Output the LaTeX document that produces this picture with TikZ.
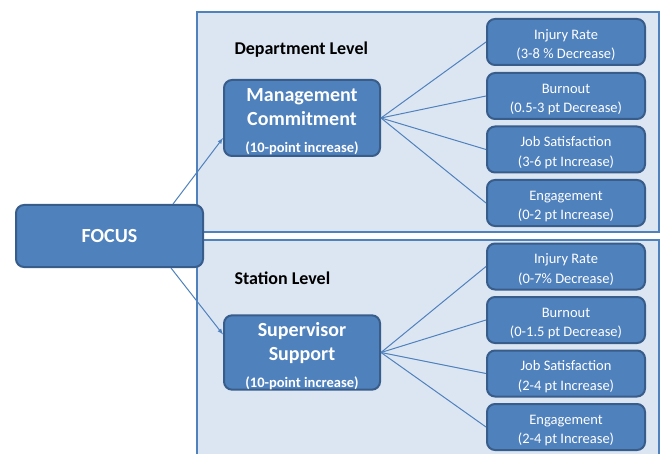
\documentclass[tikz,border=0pt]{standalone}
\usepackage{fontspec}
\setmainfont{Carlito}
\tikzset{>=latex}
\definecolor{boxblue}{HTML}{4F81BD}
\definecolor{edgeblue}{HTML}{385D8A}
\definecolor{panelblue}{HTML}{DCE6F2}
% taller first line, so the text sits a little low in its box
\newcommand{\toprule}[1]{\rule{0pt}{#1}}
\tikzset{
  panel/.style={draw=boxblue, line width=2pt, fill=panelblue},
  bluebox/.style={draw=edgeblue, line width=2pt, fill=boxblue, rounded corners=8pt,
    text=white, align=center, inner sep=0pt},
  resultbox/.style={bluebox, minimum width=158pt, minimum height=46pt,
    font=\fontsize{14.5}{19.5}\selectfont},
  levelbox/.style={bluebox, minimum width=156pt, font=\fontsize{20}{24}\selectfont\bfseries},
  leveltitle/.style={anchor=west, font=\fontsize{18}{22}\selectfont\bfseries},
  link/.style={draw=boxblue, line width=1pt},
}

\begin{document}
\begin{tikzpicture}[x=1pt,y=-1pt]
  \useasboundingbox (0,0) rectangle (660,454);
  % panels
  \draw[panel] (197,12) rectangle (659,232);
  \draw[panel] (197,240) rectangle (659,470);
  \node[leveltitle] (dlevel) at (231,49.5) {Department Level};
  \node[leveltitle] (slevel) at (231,278) {Station Level};
  % focus and the two levels
  \node[bluebox, minimum width=187pt, minimum height=62pt,
    font=\fontsize{20}{24}\selectfont\bfseries] (focus) at (109.5,236) {FOCUS};
  \node[levelbox, minimum height=76pt] (mgmt) at (302,118)
    {\toprule{21pt}Management\\Commitment\\[3pt]{\fontsize{14.5}{17}\selectfont (10-point increase)}};
  \node[levelbox, minimum height=67pt] (supp) at (302,352.5)
    {\toprule{21pt}Supervisor\\Support\\[3pt]{\fontsize{14.5}{17}\selectfont (10-point increase)}};
  \draw[->,link] ([xshift=-31pt]focus.north east) -- ([yshift=-20pt]mgmt.west);
  \draw[->,link] ([xshift=-33pt]focus.south east) -- ([yshift=18pt]supp.west);
  % 1
  \node[resultbox] (dInjury) at (566,42) {\toprule{16pt}Injury Rate\\(3-8 \% Decrease)};
  \node[resultbox] (dBurnout) at (566,96) {\toprule{16pt}Burnout\\(0.5-3 pt Decrease)};
  \node[resultbox] (dJob) at (566,149.5) {\toprule{16pt}Job Satisfaction\\(3-6 pt Increase)};
  \node[resultbox] (dEngage) at (566,203) {\toprule{16pt}Engagement\\(0-2 pt Increase)};
  \draw[link] (mgmt.east) -- (dInjury.west);
  \draw[link] (mgmt.east) -- (dBurnout.west);
  \draw[link] (mgmt.east) -- (dJob.west);
  \draw[link] (mgmt.east) -- (dEngage.west);
  % 2
  \node[resultbox] (sInjury) at (566,266.5) {\toprule{16pt}Injury Rate\\(0-7\% Decrease)};
  \node[resultbox] (sBurnout) at (566,320) {\toprule{16pt}Burnout\\(0-1.5 pt Decrease)};
  \node[resultbox] (sJob) at (566,373.5) {\toprule{16pt}Job Satisfaction\\(2-4 pt Increase)};
  \node[resultbox] (sEngage) at (566,427) {\toprule{16pt}Engagement\\(2-4 pt Increase)};
  \draw[link] (supp.east) -- (sInjury.west);
  \draw[link] (supp.east) -- (sBurnout.west);
  \draw[link] (supp.east) -- (sJob.west);
  \draw[link] (supp.east) -- (sEngage.west);
\end{tikzpicture}
\end{document}
